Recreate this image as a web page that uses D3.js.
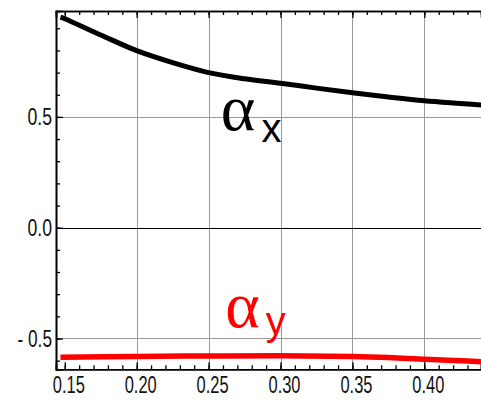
<!DOCTYPE html>
<html><head><meta charset="utf-8">
<script src="https://cdn.jsdelivr.net/npm/d3@7"></script>
<style>html,body{margin:0;padding:0;background:#fff;} svg{display:block;}</style>
</head><body>
<svg id="chart" width="481" height="400"></svg>
<script>
// ---- data ----
const alphaXx = [0.147, 0.15, 0.175, 0.20, 0.225, 0.25, 0.275, 0.30, 0.325, 0.35, 0.375, 0.40, 0.425, 0.44];
const alphaXy = [0.950, 0.943, 0.870, 0.799, 0.745, 0.700, 0.672, 0.652, 0.630, 0.609, 0.590, 0.573, 0.561, 0.554];
const alphaYx = [0.147, 0.20, 0.25, 0.30, 0.35, 0.375, 0.40, 0.425, 0.44];
const alphaYy = [-0.585, -0.581, -0.579, -0.578, -0.581, -0.586, -0.594, -0.600, -0.605];
const xMajor = [0.15, 0.20, 0.25, 0.30, 0.35, 0.40];
const xLabels = ["0.15", "0.20", "0.25", "0.30", "0.35", "0.40"];
const xMinor = [0.15,0.16,0.17,0.18,0.19,0.20,0.21,0.22,0.23,0.24,0.25,0.26,0.27,0.28,0.29,0.30,0.31,0.32,0.33,0.34,0.35,0.36,0.37,0.38,0.39,0.40,0.41,0.42,0.43];
const yMajor = [-0.5, 0.0, 0.5];
const yLabels = ["- 0.5", "0.0", "0.5"];
const yMinor = [-0.6,-0.5,-0.4,-0.3,-0.2,-0.1,0.0,0.1,0.2,0.3,0.4,0.5,0.6,0.7,0.8,0.9];
const seriesNames = ["α", "α"];
const seriesSubs = ["x", "y"];
const labelAnchorX = [0.2585, 0.2615];
const labelAnchorY = [0.441, -0.448];

// ---- layout ----
const L = 56, R = 481, T = 11, B = 369.3;
const x = d3.scaleLinear().domain([0.1439, 0.4394]).range([L, R]);
const y = d3.scaleLinear().domain([-0.639, 0.978]).range([B, T]);
const svg = d3.select("#chart");
const fontTick = "'Liberation Sans',Arial,sans-serif";

// gridlines
const grid = svg.append("g");
grid.selectAll("line.v").data(xMajor.filter(v => v > 0.16)).join("line")
  .attr("x1", d => Math.round(x(d)) + 0.5).attr("x2", d => Math.round(x(d)) + 0.5)
  .attr("y1", T).attr("y2", B).attr("stroke", "#999").attr("stroke-width", 1);
grid.selectAll("line.h").data(yMajor).join("line")
  .attr("x1", L).attr("x2", R)
  .attr("y1", d => Math.round(y(d)) + 0.5).attr("y2", d => Math.round(y(d)) + 0.5)
  .attr("stroke", d => d === 0 ? "#000" : "#999").attr("stroke-width", 1);

// axes via d3 axes (ticks inward)
const xb = svg.append("g").attr("transform", `translate(0,${B})`)
  .call(d3.axisBottom(x).tickValues(xMinor).tickSize(-4).tickFormat(""));
const xbM = svg.append("g").attr("transform", `translate(0,${B})`)
  .call(d3.axisBottom(x).tickValues(xMajor).tickSize(-7).tickFormat((d, i) => xLabels[i]));
const xt = svg.append("g").attr("transform", `translate(0,${T})`)
  .call(d3.axisTop(x).tickValues(xMinor).tickSize(-4).tickFormat(""));
const xtM = svg.append("g").attr("transform", `translate(0,${T})`)
  .call(d3.axisTop(x).tickValues(xMajor).tickSize(-7).tickFormat(""));
const yl = svg.append("g").attr("transform", `translate(${L},0)`)
  .call(d3.axisLeft(y).tickValues(yMinor).tickSize(-4).tickFormat(""));
const ylM = svg.append("g").attr("transform", `translate(${L},0)`)
  .call(d3.axisLeft(y).tickValues(yMajor).tickSize(-7).tickFormat((d, i) => yLabels[i]));

[xb, xbM, xt, xtM, yl, ylM].forEach(g => {
  g.selectAll(".domain").attr("stroke", "#000").attr("stroke-width", 1.6);
  g.selectAll(".tick line").attr("stroke", "#000").attr("stroke-width", 1.3);
});
xbM.selectAll(".tick text").attr("font-family", fontTick).attr("font-size", 23)
  .attr("fill", "#111").attr("dy", 0).attr("y", 24).attr("dx", 3.5)
  .attr("textLength", 32).attr("lengthAdjust", "spacingAndGlyphs");
ylM.selectAll(".tick text").attr("font-family", fontTick).attr("font-size", 23)
  .attr("fill", "#111").attr("x", -4).attr("dy", "0.35em")
  .attr("textLength", (d, i) => yLabels[i].length > 3 ? 34.5 : 24.5)
  .attr("lengthAdjust", "spacingAndGlyphs");

// lines
const line = d3.line().x(d => x(d[0])).y(d => y(d[1])).curve(d3.curveCatmullRom);
svg.append("path").datum(alphaXx.map((v, i) => [v, alphaXy[i]]))
  .attr("d", line).attr("fill", "none").attr("stroke", "#000").attr("stroke-width", 5);
svg.append("path").datum(alphaYx.map((v, i) => [v, alphaYy[i]]))
  .attr("d", line).attr("fill", "none").attr("stroke", "#ff0000").attr("stroke-width", 5.5);

// labels
const colors = ["#000", "#ff0000"];
const subDy = [12, 8];
seriesNames.forEach((n, i) => {
  const t = svg.append("text").attr("x", x(labelAnchorX[i])).attr("y", y(labelAnchorY[i]))
    .attr("fill", colors[i]);
  t.append("tspan").attr("font-family", "'Liberation Serif','DejaVu Serif',serif")
    .attr("font-size", 66).text(n);
  t.append("tspan").attr("font-family", "'Liberation Sans','DejaVu Sans',sans-serif")
    .attr("font-size", 40).attr("dx", 6).attr("dy", subDy[i]).text(seriesSubs[i]);
});
</script>
</body></html>
